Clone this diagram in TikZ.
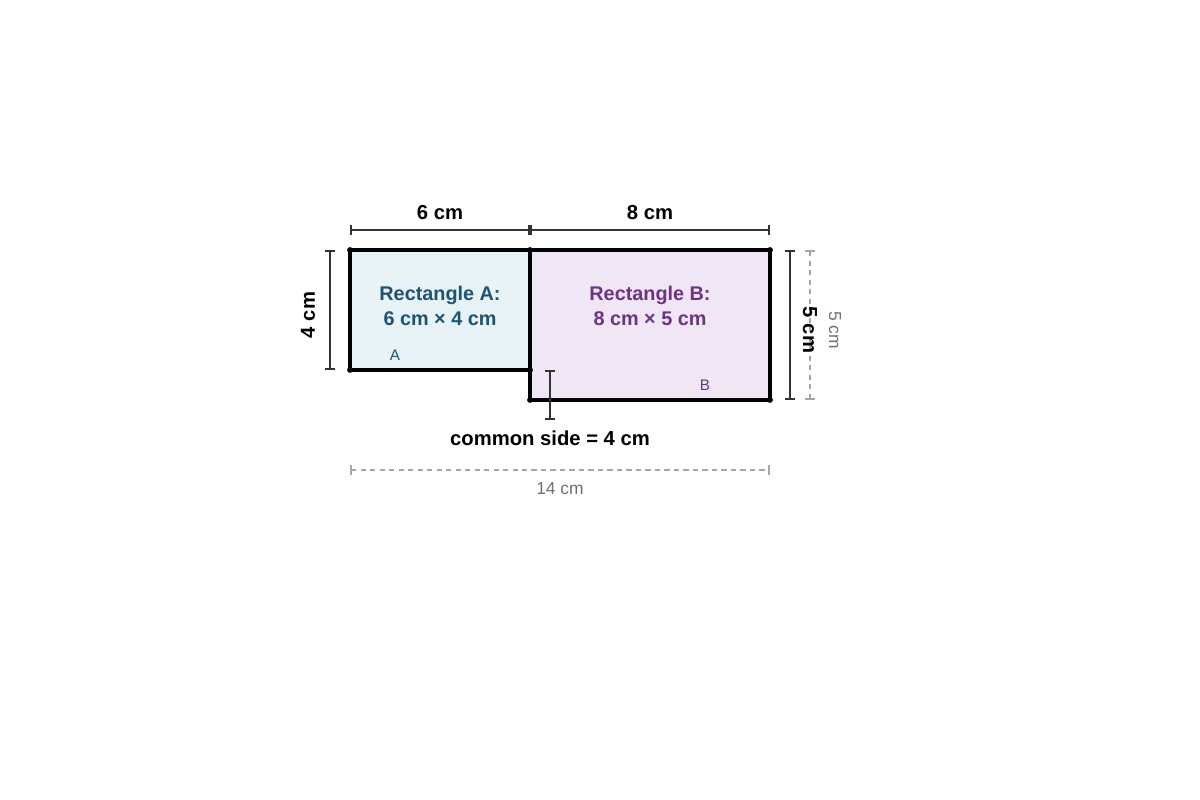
\documentclass[tikz,border=0pt]{standalone}
\usepackage{fontspec}
\setmainfont{Liberation Sans}
\usetikzlibrary{arrows.meta, positioning}
\definecolor{fillA}{HTML}{E8F3F8}
\definecolor{fillB}{HTML}{F0E6F6}
\definecolor{inkA}{HTML}{1F5373}
\definecolor{inkB}{HTML}{6C3483}
\definecolor{dimink}{HTML}{333333}
\definecolor{faint}{HTML}{A6A6A6}
\definecolor{faintink}{HTML}{707070}
\tikzset{
  rectside/.style={draw=black, line width=3.4pt, line join=miter},
  dimline/.style={draw=dimink, line width=1.5pt, {Bar[width=9pt]}-{Bar[width=9pt]}},
  faintline/.style={draw=faint, line width=1.5pt, dashed, dash pattern=on 5pt off 4pt, {Bar[width=9pt]}-{Bar[width=9pt]}},
  bigtext/.style={font=\fontsize{19.2}{23}\selectfont\bfseries, text=black},
  boxtext/.style={font=\fontsize{18.8}{24}\selectfont\bfseries, align=center},
  tagtext/.style={font=\fontsize{14.5}{16}\selectfont},
  faintext/.style={font=\fontsize{16.5}{18}\selectfont, text=faintink},
  corner/.style={circle, fill=black, inner sep=0pt, minimum size=5.5pt}
}
\begin{document}
\begin{tikzpicture}
  \useasboundingbox (-11.667,8.333) rectangle (28.333,-18.333);

  % corners
  \coordinate (a1) at (0,0);
  \coordinate (a2) at (6,0);
  \coordinate (a3) at (6,-4);
  \coordinate (a4) at (0,-4);
  \coordinate (b2) at (14,0);
  \coordinate (b3) at (14,-5);
  \coordinate (b4) at (6,-5);

  % rectangles
  \fill[fillB] (a2) rectangle (b3);
  \fill[fillA] (a1) rectangle (a3);
  \draw[rectside] (a2) -- (b2) -- (b3) -- (b4) -- cycle;
  \draw[rectside] (a1) -- (a2) -- (a3) -- (a4) -- cycle;
  \foreach \c in {a1,a2,a3,a4,b2,b3,b4}
    \node[corner] at (\c) {};

  \node[boxtext, text=inkA] (labA) at (3,-1.87) {Rectangle A:\\6 cm × 4 cm};
  \node[boxtext, text=inkB] (labB) at (10,-1.87) {Rectangle B:\\8 cm × 5 cm};
  \node[tagtext, text=inkA] (tagA) at (1.5,-3.5) {A};
  \node[tagtext, text=inkB] (tagB) at (11.83,-4.5) {B};

  % top dimensions
  \coordinate (t1) at (0,0.667);
  \coordinate (t2) at (6,0.667);
  \coordinate (t3) at (14,0.667);
  \draw[dimline] (t1) -- (t2);
  \draw[dimline] (t2) -- (t3);
  \node[bigtext] (wA) at (3,1.233) {6 cm};
  \node[bigtext] (wB) at (10,1.233) {8 cm};

  % side dimensions
  \coordinate (l1) at (-0.667,0);
  \coordinate (l2) at (-0.667,-4);
  \draw[dimline] (l1) -- (l2);
  \node[bigtext, rotate=90] (hA) at (-1.4,-2.167) {4 cm};

  \coordinate (r1) at (14.667,0);
  \coordinate (r2) at (14.667,-5);
  \draw[dimline] (r1) -- (r2);
  \coordinate (g1) at (15.333,0);
  \coordinate (g2) at (15.333,-5);
  \draw[faintline] (g1) -- (g2);
  \node[bigtext, rotate=-90] (hB) at (15.333,-2.667) {5 cm};
  \node[faintext, rotate=-90] (hB2) at (16.17,-2.667) {5 cm};

  % common side
  \coordinate (c1) at (6.667,-4);
  \coordinate (c2) at (6.667,-5.667);
  \draw[dimline] (c1) -- (c2);
  \node[bigtext] (common) at (6.667,-6.267) {common side = 4 cm};

  % overall width
  \coordinate (w1) at (0,-7.333);
  \coordinate (w2) at (14,-7.333);
  \draw[faintline] (w1) -- (w2);
  \node[faintext] (total) at (7,-7.967) {14 cm};
\end{tikzpicture}
\end{document}
